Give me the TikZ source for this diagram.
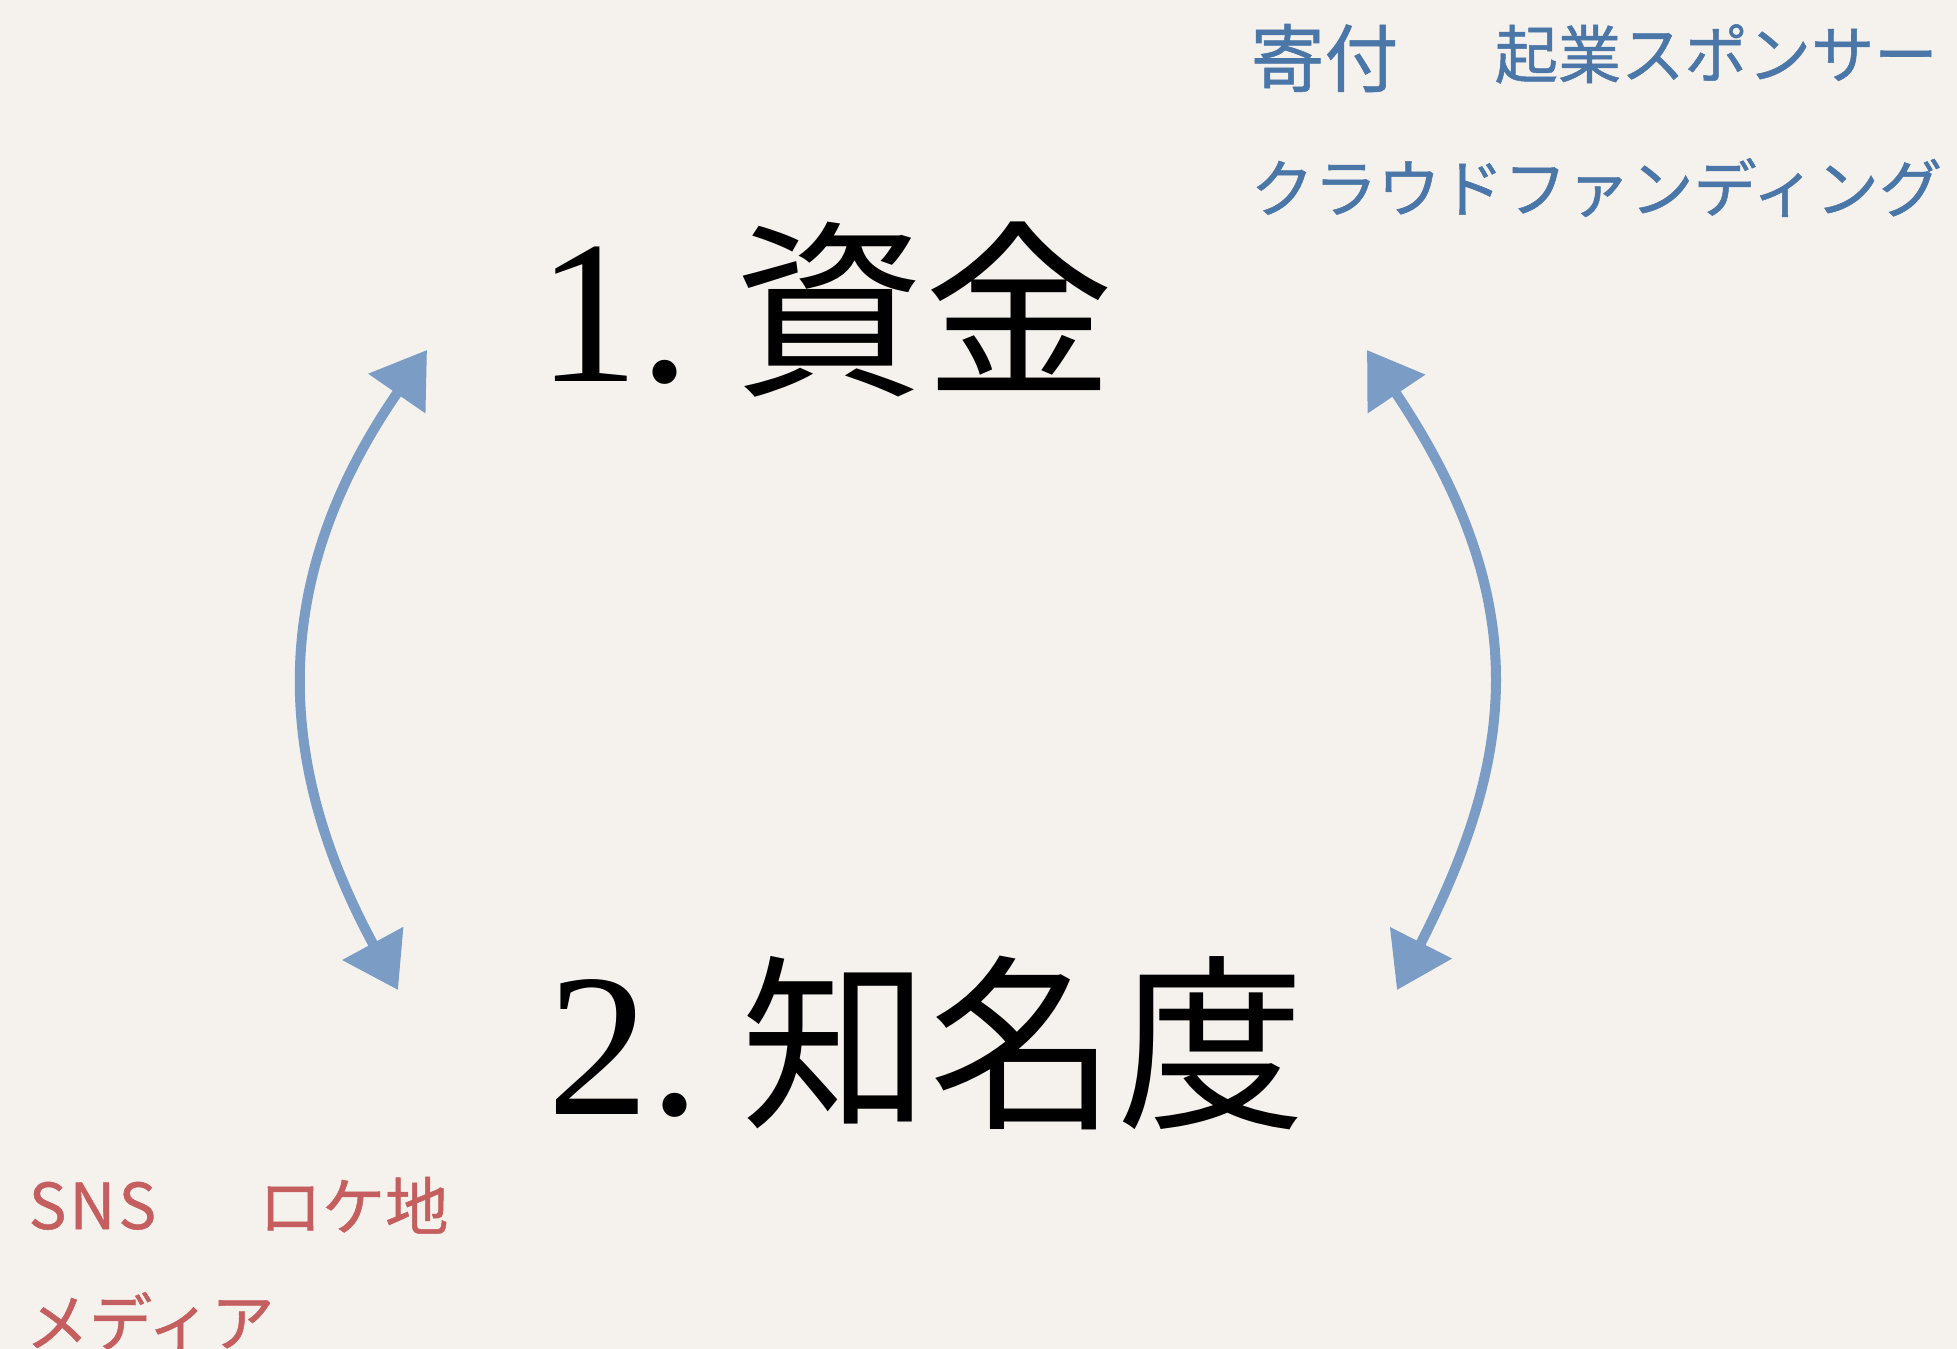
\documentclass[tikz,border=0pt]{standalone}
\usepackage{fontspec}
\newfontfamily\cjk{Noto Sans CJK JP}
\newfontfamily\cjkb[FakeBold=0.8]{Noto Sans CJK JP}
\newfontfamily\numfont{Liberation Serif}
\usetikzlibrary{arrows.meta}
\definecolor{bg}{HTML}{F5F2EE}
\definecolor{blu}{HTML}{4A76A8}
\definecolor{rd}{HTML}{C55F5F}
\definecolor{arr}{HTML}{7B9CC4}
\tikzset{
  title/.style={anchor=base west, inner sep=0pt, text=black, font=\fontsize{54}{60}\selectfont},
  bigblue/.style={anchor=base west, inner sep=0pt, text=blu, font=\cjkb\fontsize{21}{24}\selectfont},
  bluetxt/.style={anchor=base west, inner sep=0pt, text=blu, font=\cjkb\fontsize{18}{20}\selectfont},
  redtxt/.style={anchor=base west, inner sep=0pt, text=rd, font=\cjkb\fontsize{18}{20}\selectfont},
  cycarrow/.style={draw=arr, line width=1mm, line cap=round,
    {Triangle[length=5.3mm,width=6.7mm]}-{Triangle[length=5.3mm,width=6.7mm]}}
}
\newcommand{\numtxt}[1]{{\numfont\fontsize{58}{60}\selectfont #1}}
\begin{document}
\begin{tikzpicture}[x=0.1mm,y=-0.1mm]
\useasboundingbox (0,0) rectangle (1957,1349);
\clip (0,0) rectangle (1957,1349);
\fill[bg] (0,0) rectangle (1957,1349);

% titles
\node[title] (fund) at (537,381) {\numtxt{1.}\hspace{4.4mm}{\cjk 資金}};
\node[title] (fame) at (547,1114) {\numtxt{2.}\hspace{4.1mm}{\cjk\fontsize{53.5}{60}\selectfont 知名度}};

% blue notes
\node[bigblue] (kifu) at (1250,86) {寄付};
\node[bluetxt] (sponsor) at (1494,78) {起業スポンサー};
\node[bluetxt] (crowd) at (1250,212) {クラウドファンディング};

% red notes
\node[redtxt] (sns) at (28,1229) {S\hspace{0.05em}N\hspace{0.05em}S};
\node[redtxt] (loca) at (258,1230) {ロケ地};
\node[redtxt] (media) at (25,1346) {メディア};

% arrows
\coordinate (L1) at (427,350);
\coordinate (L2) at (398,990);
\coordinate (R1) at (1367,350);
\coordinate (R2) at (1397,990);
\draw[cycarrow] (L1) .. controls (260,591) and (282,776) .. (L2);
\draw[cycarrow] (R1) .. controls (1538,605) and (1513,762) .. (R2);
\end{tikzpicture}
\end{document}
